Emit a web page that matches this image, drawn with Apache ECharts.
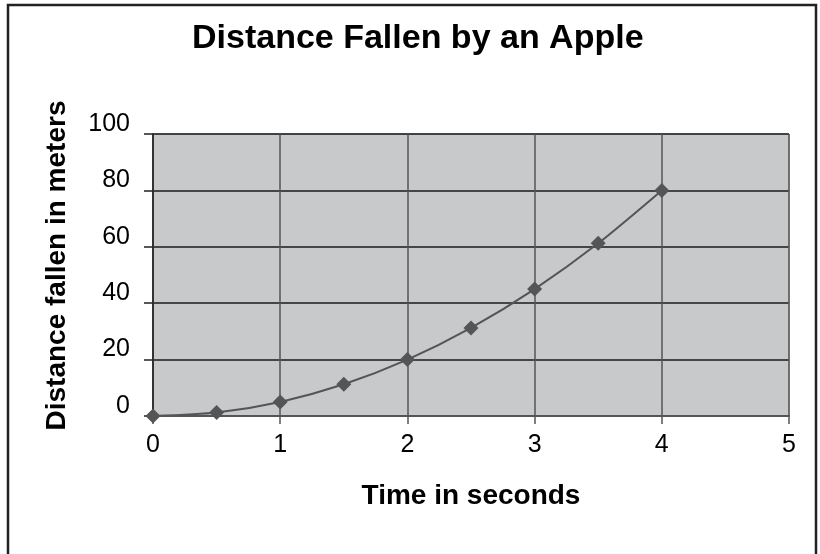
<!DOCTYPE html>
<html>
<head>
<meta charset="utf-8">
<script src="https://cdn.jsdelivr.net/npm/echarts@6/dist/echarts.min.js"></script>
<style>
  html, body { margin: 0; padding: 0; background: #fff; }
  #chart { width: 820px; height: 554px; }
</style>
</head>
<body>
<div id="chart"></div>
<script>
// time (s) and distance fallen (m)
const times = [0, 0.5, 1, 1.5, 2, 2.5, 3, 3.5, 4];
const distances = [0, 1.25, 5, 11.25, 20, 31.25, 45, 61.25, 80];

const FONT = '"Liberation Sans", Arial, sans-serif';
const chart = echarts.init(document.getElementById('chart'));

chart.setOption({
  backgroundColor: '#fff',
  animation: false,
  textStyle: { fontFamily: FONT },
  title: {
    text: 'Distance Fallen by an Apple',
    left: 192,
    top: 22,
    padding: 0,
    textStyle: { fontSize: 34, fontWeight: 'bold', color: '#000', fontFamily: FONT },
  },
  graphic: [{
    type: 'rect',
    shape: { x: 8, y: 5, width: 808, height: 570 },
    style: { fill: null, stroke: '#222', lineWidth: 2.5 },
    silent: true,
  }],
  grid: {
    left: 153,
    right: 31,
    top: 134,
    bottom: 138,
    show: true,
    backgroundColor: '#c8c9cb',
    borderColor: '#9a9a9a',
    borderWidth: 1,
  },
  xAxis: {
    type: 'value',
    min: 0,
    max: 5,
    interval: 1,
    name: 'Time in seconds',
    nameLocation: 'middle',
    nameGap: 66,
    nameTextStyle: { fontSize: 28, fontWeight: 'bold', color: '#000', fontFamily: FONT, verticalAlign: 'top' },
    axisLine: { show: true, lineStyle: { color: '#555', width: 2 } },
    axisTick: { show: true, length: 8, lineStyle: { color: '#555', width: 1.5 } },
    axisLabel: { fontSize: 25, color: '#000', margin: 17, fontFamily: FONT },
    splitLine: { show: true, lineStyle: { color: '#555', width: 1.5 } },
  },
  yAxis: {
    type: 'value',
    min: 0,
    max: 100,
    interval: 20,
    name: 'Distance fallen in meters',
    nameLocation: 'middle',
    nameGap: 82,
    nameRotate: 90,
    nameTextStyle: { fontSize: 28, fontWeight: 'bold', color: '#000', fontFamily: FONT, padding: [0, 0, 0, 19] },
    axisLine: { show: true, lineStyle: { color: '#333', width: 2 } },
    axisTick: { show: true, length: 9, lineStyle: { color: '#222', width: 1.5 } },
    axisLabel: { fontSize: 25, color: '#000', margin: 23, verticalAlign: 'bottom', lineHeight: 20, fontFamily: FONT },
    splitLine: { show: true, lineStyle: { color: '#1a1a1a', width: 1.5 } },
  },
  series: [{
    type: 'line',
    data: times.map((t, i) => [t, distances[i]]),
    smooth: 0.25,
    symbol: 'diamond',
    symbolSize: 15,
    lineStyle: { color: '#555', width: 2 },
    itemStyle: { color: '#555' },
  }],
});
</script>
</body>
</html>
